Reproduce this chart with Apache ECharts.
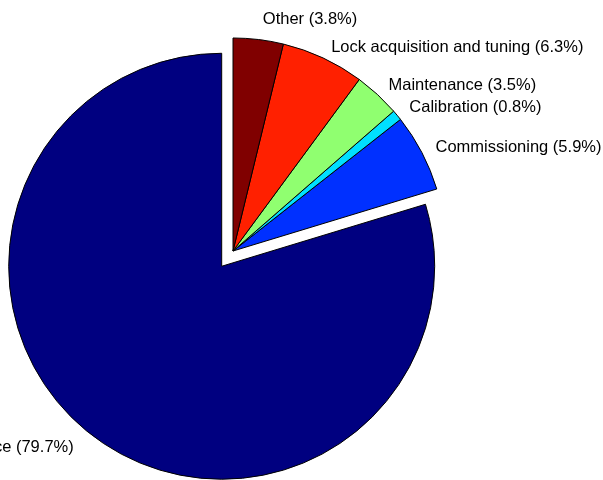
<!DOCTYPE html>
<html>
<head>
<meta charset="utf-8">
<script src="https://cdn.jsdelivr.net/npm/echarts@6/dist/echarts.min.js"></script>
<style>
  html, body { margin: 0; padding: 0; background: #ffffff; }
  #chart { width: 603px; height: 480px; }
</style>
</head>
<body>
<div id="chart"></div>
<script>
// Share of time per activity, in percent
const categories = ['Science', 'Commissioning', 'Calibration', 'Maintenance', 'Lock acquisition and tuning', 'Other'];
const shares = [79.7, 5.9, 0.8, 3.5, 6.3, 3.8];
const sliceColors = ['#000080', '#0030ff', '#00e0ff', '#90ff70', '#ff2000', '#800000'];
const explodedSlices = [true, false, false, false, false, false];

const PIE_CENTER = [233, 251];
const START_ANGLE = 90;

// mid angle of each slice (degrees, counter-clockwise from 3 o'clock)
const total = shares.reduce(function (s, v) { return s + v; }, 0);
const midAngles = [];
shares.reduce(function (acc, v) {
  midAngles.push(START_ANGLE + (acc + v / 2) / total * 360);
  return acc + v;
}, 0);

const chart = echarts.init(document.getElementById('chart'), null, { renderer: 'canvas' });

chart.setOption({
  animation: false,
  backgroundColor: '#ffffff',
  series: [{
    type: 'pie',
    center: PIE_CENTER,
    radius: 213,
    startAngle: START_ANGLE,
    clockwise: false,
    selectedMode: 'multiple',
    selectedOffset: 19,
    avoidLabelOverlap: false,
    emphasis: { disabled: true },
    itemStyle: { borderColor: '#000000', borderWidth: 1 },
    label: {
      show: true,
      position: 'outside',
      formatter: '{b} ({c}%)',
      fontFamily: 'Liberation Sans, Arial, sans-serif',
      fontSize: 16.5,
      color: '#000000',
      distanceToLabelLine: 3,
      alignTo: 'none'
    },
    labelLine: { show: false, length: 12, length2: 0 },
    // labels of near-vertical slices sit on top of their anchor point
    labelLayout: function (p) {
      const a = midAngles[p.dataIndex] * Math.PI / 180;
      return Math.sin(a) > 0.95 ? { verticalAlign: 'bottom' } : {};
    },
    data: categories.map(function (name, i) {
      const item = {
        name: name,
        value: shares[i],
        selected: explodedSlices[i],
        itemStyle: { color: sliceColors[i] }
      };
      // the exploded slice keeps its label a little further out
      if (explodedSlices[i]) {
        item.label = { distanceToLabelLine: 14 };
      }
      return item;
    })
  }]
});
</script>
</body>
</html>
